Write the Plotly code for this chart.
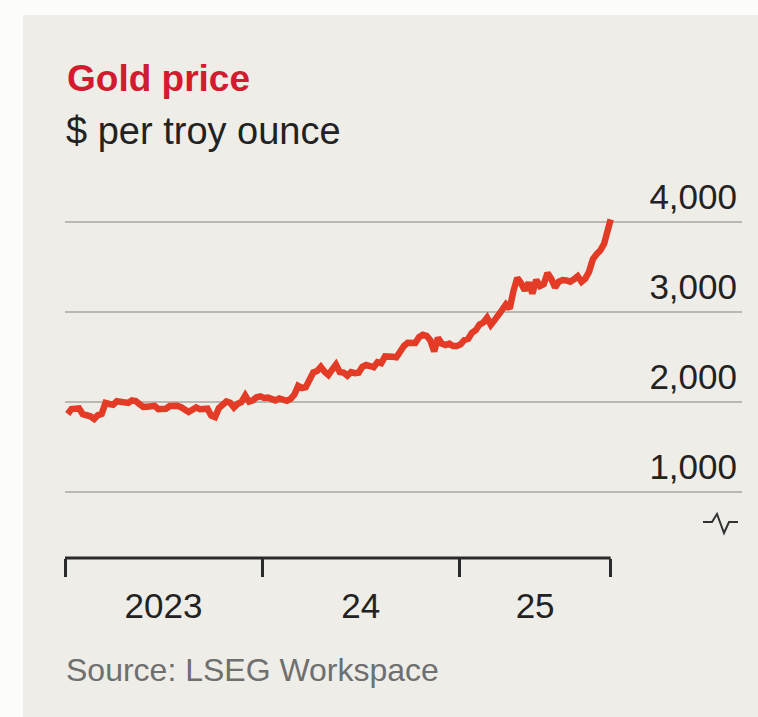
import pandas as pd
import plotly.graph_objects as go

# ---------------- data (weekly gold price, $ per troy ounce) ----------------
prices_2023 = [1866, 1921, 1926, 1929,
               1865, 1862, 1841, 1811,
               1855, 1868, 1989, 1978, 1969,
               2008, 2004, 1983, 1990,
               2017, 2011, 1977, 1946,
               1948, 1961, 1958, 1921, 1919,
               1925, 1955, 1962, 1959,
               1942, 1914, 1889, 1915,
               1940, 1919, 1924, 1925, 1848,
               1833, 1932, 1981, 2006,
               1992, 1940, 1980, 2001,
               2072, 2004, 2019, 2053, 2063]
prices_2024 = [2045, 2049, 2029, 2018,
               2039, 2024, 2013, 2035,
               2083, 2179, 2155, 2165, 2233,
               2329, 2344, 2391, 2337,
               2301, 2360, 2415, 2333, 2327,
               2293, 2333, 2321, 2326,
               2392, 2411, 2400, 2387,
               2443, 2431, 2507, 2512, 2503,
               2497, 2578, 2622, 2658,
               2653, 2656, 2721, 2747,
               2736, 2684, 2563, 2712, 2650,
               2633, 2648, 2622, 2622]
prices_2025 = [2640, 2689, 2703, 2770, 2798,
               2861, 2883, 2936, 2858,
               2910, 2984, 3023, 3084,
               3037, 3237, 3380, 3319,
               3240, 3326, 3205, 3357, 3289,
               3310, 3433, 3368, 3274,
               3337, 3355, 3350, 3337,
               3363, 3398, 3336, 3371, 3448,
               3586, 3643, 3685, 3760,
               3887, 4030]

dates = list(pd.date_range("2023-01-06", "2023-12-29", freq="W-FRI")) + \
        list(pd.date_range("2024-01-05", "2024-12-27", freq="W-FRI")) + \
        list(pd.date_range("2025-01-03", "2025-10-03", freq="W-FRI")) + \
        [pd.Timestamp("2025-10-08")]
prices = prices_2023 + prices_2024 + prices_2025

axis_start = pd.Timestamp("2023-01-01")
axis_end = pd.Timestamp("2025-10-08")
year_starts = [pd.Timestamp("2023-01-01"), pd.Timestamp("2024-01-01"), pd.Timestamp("2025-01-01")]
year_labels = ["2023", "24", "25"]
y_ticks = [1000, 2000, 3000, 4000]
y_ticktext = ["1,000", "2,000", "3,000", "4,000"]

title = "Gold price"
subtitle = "$ per troy ounce"
source = "Source: LSEG Workspace"

# ---------------- layout geometry ----------------
W, H = 758, 717
L, R, T, B = 65, 16, 185, 159
PW, PH = W - L - R, H - T - B
PX_PER_YEAR = 197.0


def px(x):
    return (x - L) / PW


def py(y):
    return (H - B - y) / PH


x_range_end = axis_start + pd.Timedelta(days=PW / PX_PER_YEAR * 365)
label_pos = [year_starts[0] + (year_starts[1] - year_starts[0]) / 2,
             year_starts[1] + (year_starts[2] - year_starts[1]) / 2,
             year_starts[2] + (axis_end - year_starts[2]) / 2]

FONT = "Liberation Sans, Arial, sans-serif"
RED_LINE = "#e43b27"
TEXT = "#222222"

fig = go.Figure()
fig.add_trace(go.Scatter(x=dates, y=prices, mode="lines",
                         line=dict(color=RED_LINE, width=6.5, shape="linear"),
                         hoverinfo="x+y", showlegend=False))

fig.update_layout(
    width=W, height=H,
    margin=dict(l=L, r=R, t=T, b=B, pad=0),
    paper_bgcolor="#fcfcfa",
    plot_bgcolor="rgba(0,0,0,0)",
    font=dict(family=FONT, color=TEXT, size=35),
    showlegend=False,
    xaxis=dict(
        range=[axis_start, x_range_end],
        showgrid=False, zeroline=False, showline=False,
        tickmode="array", tickvals=label_pos, ticktext=year_labels,
        ticks="outside", ticklen=7, tickcolor="rgba(0,0,0,0)", tickwidth=2,
        ticklabelstandoff=10,
        tickfont=dict(size=35, color=TEXT, family=FONT),
        minor=dict(tickmode="array", tickvals=year_starts + [axis_end],
                   ticks="outside", ticklen=18, tickwidth=2.5, tickcolor="#2a2a2a",
                   showgrid=False),
        fixedrange=True,
    ),
    yaxis=dict(
        range=[267, 4411],
        side="right",
        showgrid=True, gridcolor="#b9b9b3", gridwidth=2,
        zeroline=False, showline=False,
        tickmode="array", tickvals=y_ticks, ticktext=y_ticktext,
        ticks="", ticklabelposition="inside",
        ticklabeloverflow="allow",
        ticklabelshift=-25, ticklabelstandoff=2,
        tickfont=dict(size=35, color=TEXT, family=FONT),
        fixedrange=True,
    ),
)

shapes = [
    # beige panel
    dict(type="rect", xref="paper", yref="paper", layer="below",
         x0=px(23), x1=px(W + 5), y0=py(H + 5), y1=py(15),
         fillcolor="#eeede8", line=dict(width=0)),
    # x-axis baseline (only across the data period)
    dict(type="line", xref="x", yref="paper", x0=axis_start, x1=axis_end, y0=0, y1=0,
         line=dict(color="#2a2a2a", width=3), layer="above"),
    # axis-break squiggle
    dict(type="path", xref="paper", yref="paper", layer="above",
         path="M {} {} L {} {} L {} {} L {} {} L {} {} L {} {}".format(
             px(703), py(522), px(712), py(522), px(717), py(514),
             px(724), py(533), px(729), py(522), px(738), py(522)),
         line=dict(color="#333333", width=2)),
]
fig.update_layout(shapes=shapes)

fig.add_annotation(x=px(65), y=py(78), xref="paper", yref="paper", text="<b>" + title + "</b>",
                   showarrow=False, xanchor="left", yanchor="middle",
                   font=dict(size=37, color="#d41a2e", family=FONT))
fig.add_annotation(x=px(64), y=py(131), xref="paper", yref="paper", text=subtitle,
                   showarrow=False, xanchor="left", yanchor="middle",
                   font=dict(size=38, color=TEXT, family=FONT))
fig.add_annotation(x=px(64), y=py(670), xref="paper", yref="paper", text=source,
                   showarrow=False, xanchor="left", yanchor="middle",
                   font=dict(size=32, color="#6f6f6f", family=FONT))

fig.write_html("out.html", config={"displayModeBar": False},
               post_script="document.body.style.margin='0';document.body.style.padding='0';")
